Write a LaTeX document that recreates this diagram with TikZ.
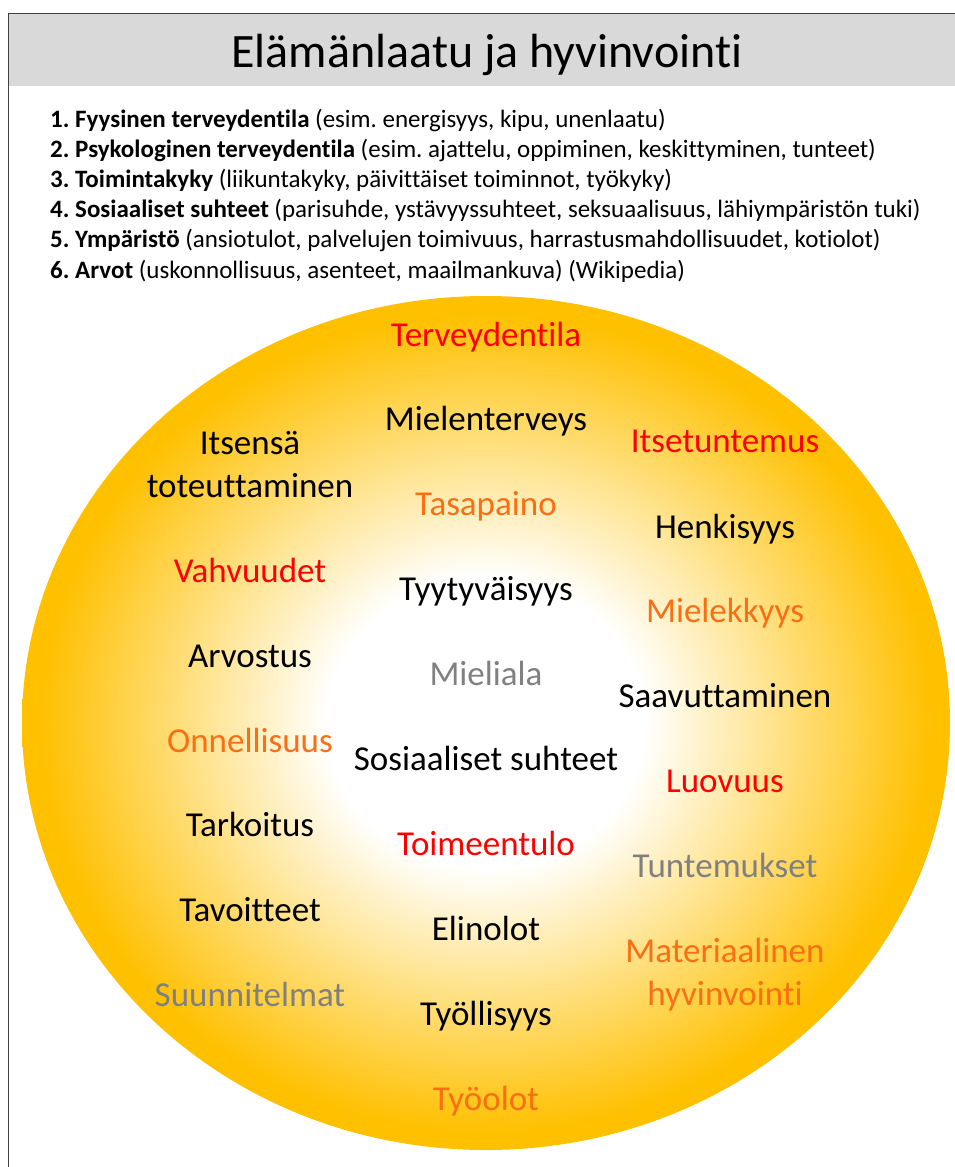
\documentclass[tikz,border=0pt]{standalone}
\usepackage{fontspec}
\setmainfont{Carlito}[Ligatures={NoCommon,NoDiscretionary,NoContextual}]
\frenchspacing
\definecolor{gold}{RGB}{255,192,0}
\definecolor{hdr}{RGB}{217,217,217}
\definecolor{org}{RGB}{250,110,20}
\definecolor{gry}{RGB}{128,128,128}
\definecolor{frm}{RGB}{64,64,64}
\definecolor{rd}{RGB}{255,0,0}
\pgfdeclareradialshading{sun}{\pgfpoint{0bp}{0bp}}{color(0bp)=(white); color(8.5bp)=(white); color(24bp)=(gold); color(50bp)=(gold)}
\tikzset{
  lbl/.style={font=\fontsize{35}{43}\selectfont, anchor=base, inner sep=0pt},
  item/.style={font=\fontsize{25}{30}\selectfont, anchor=base west, inner sep=0pt},
}
\begin{document}
\begin{tikzpicture}[x=1pt,y=-1pt]
\useasboundingbox (0,0) rectangle (955,1167);
\clip (0,0) rectangle (955,1167);
% header
\fill[hdr] (9,14) rectangle (960,86);
\draw[frm, line width=1.5pt] (8.5,1180) -- (8.5,13.5) -- (970,13.5);
\node[font=\fontsize{48}{54}\selectfont, anchor=base, inner sep=0pt] (title) at (487,67) {Elämänlaatu ja hyvinvointi};
% list
\node[item] (l1) at (50,127) {\textbf{1. Fyysinen terveydentila} (esim. energisyys, kipu, unenlaatu)};
\node[item] (l2) at (50,157.2) {\textbf{2. Psykologinen terveydentila} (esim. ajattelu, oppiminen, keskittyminen, tunteet)};
\node[item] (l3) at (50,187.4) {\textbf{3. Toimintakyky} (liikuntakyky, päivittäiset toiminnot, työkyky)};
\node[item] (l4) at (50,217.6) {\textbf{4. Sosiaaliset suhteet} (parisuhde, ystävyyssuhteet, seksuaalisuus, lähiympäristön tuki)};
\node[item] (l5) at (50,247.8) {\textbf{5. Ympäristö} (ansiotulot, palvelujen toimivuus, harrastusmahdollisuudet, kotiolot)};
\node[item] (l6) at (50,278) {\textbf{6. Arvot} (uskonnollisuus, asenteet, maailmankuva) (Wikipedia)};
% circle
\shade[shading=sun] (486,723) ellipse [x radius=464pt, y radius=427pt];
% middle column
\node[lbl, text=rd]    (c1)  at (486,346)  {Terveydentila};
\node[lbl]             (c2)  at (486,430)  {Mielenterveys};
\node[lbl, text=org]   (c3)  at (486,515)  {Tasapaino};
\node[lbl]             (c4)  at (486,600)  {Tyytyväisyys};
\node[lbl, text=gry]   (c5)  at (486,685)  {Mieliala};
\node[lbl]             (c6)  at (486,770)  {Sosiaaliset suhteet};
\node[lbl, text=rd]    (c7)  at (486,855)  {Toimeentulo};
\node[lbl]             (c8)  at (486,940)  {Elinolot};
\node[lbl]             (c9)  at (486,1025) {Työllisyys};
\node[lbl, text=org]   (c10) at (486,1110) {Työolot};
% left column
\node[lbl]             (a1)  at (250,454)  {Itsensä};
\node[lbl]             (a1b) at (250,497)  {toteuttaminen};
\node[lbl, text=rd]    (a2)  at (250,582)  {Vahvuudet};
\node[lbl]             (a3)  at (250,667)  {Arvostus};
\node[lbl, text=org]   (a4)  at (250,752)  {Onnellisuus};
\node[lbl]             (a5)  at (250,836)  {Tarkoitus};
\node[lbl]             (a6)  at (250,921)  {Tavoitteet};
\node[lbl, text=gry]   (a7)  at (250,1006) {Suunnitelmat};
% right column
\node[lbl, text=rd]    (b1)  at (725,452)  {Itsetuntemus};
\node[lbl]             (b2)  at (725,538)  {Henkisyys};
\node[lbl, text=org]   (b3)  at (725,622)  {Mielekkyys};
\node[lbl]             (b4)  at (725,707)  {Saavuttaminen};
\node[lbl, text=rd]    (b5)  at (725,792)  {Luovuus};
\node[lbl, text=gry]   (b6)  at (725,877)  {Tuntemukset};
\node[lbl, text=org]   (b7)  at (725,962)  {Materiaalinen};
\node[lbl, text=org]   (b7b) at (725,1005) {hyvinvointi};
\end{tikzpicture}
\end{document}
